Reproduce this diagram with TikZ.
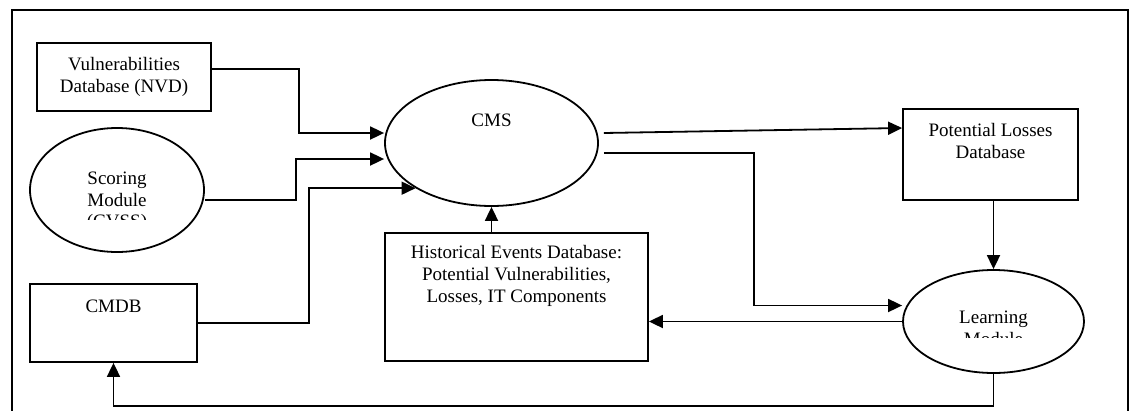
\documentclass[tikz,border=0pt]{standalone}
\usepackage{fontspec}
\setmainfont{Liberation Serif}
\usepackage{tikz}
\usetikzlibrary{shapes.geometric,arrows.meta,positioning}

\begin{document}
\begin{tikzpicture}[
        x=1pt, y=-1pt,
        every node/.style={font=\fontsize{19}{21.7}\selectfont},
        box/.style={draw, rectangle, line width=1.8pt, align=center, inner sep=0pt},
        oval/.style={draw, ellipse, line width=1.8pt, inner sep=0pt},
        txt/.style={align=center, inner sep=0pt},
        arrow/.style={-{Triangle[length=14pt,width=13pt]}, line width=1.8pt},
    ]
        \useasboundingbox (0,0) rectangle (1132,410);

        % Frame (bottom edge runs off the page)
        \draw[line width=1.8pt] (12,412) -- (12,10) -- (1128,10) -- (1128,412);

        % Left column (inputs)
        \node (nvd) [box, minimum width=174pt, minimum height=68pt] at (124,77) {Vulnerabilities\\Database (NVD)};
        \node (scoring) [oval, minimum width=174pt, minimum height=124pt] at (117,190) {};
        \node (cmdb) [box, minimum width=167pt, minimum height=78pt] at (113.5,323) {};
        \node (cmdbtxt) [txt] at ([yshift=-23pt]cmdb.north) {CMDB};

        % Middle column
        \node (cms) [oval, minimum width=213pt, minimum height=126pt] at (491.5,143) {};
        \node (cmstxt) [txt] at ([yshift=23pt]cms.center) {CMS};
        \node (hist) [box, minimum width=263pt, minimum height=128pt] at (516.5,297) {};
        \node (histtxt) [txt] at ([yshift=-44pt]hist.north) {Historical Events Database:\\Potential Vulnerabilities,\\Losses, IT Components};

        % Right column
        \node (pld) [box, minimum width=175pt, minimum height=91pt] at (990.5,154.5) {};
        \node (pldtxt) [txt] at ([yshift=-33pt]pld.north) {Potential Losses\\Database};
        \node (learn) [oval, minimum width=181pt, minimum height=103pt] at (993.5,321.5) {};

        % Texts cut off by their shapes
        \begin{scope}
            \clip (scoring.west |- scoring.north) rectangle ([yshift=-29pt]scoring.east);
            \node (scoringtxt) [txt] at ([yshift=-12pt]scoring.center) {Scoring\\Module\\(CVSS)};
        \end{scope}
        \begin{scope}
            \clip (learn.west |- learn.north) rectangle ([yshift=-15.5pt]learn.east);
            \node (learntxt) [txt] at ([yshift=-6.5pt]learn.center) {Learning\\Module};
        \end{scope}

        % --- Edges ---
        % Inputs into CMS
        \draw [arrow] ([yshift=8pt]nvd.east) -- ++(87,0) |- ([yshift=10pt]cms.west);
        \draw [arrow] ([yshift=-10pt]scoring.east) -- ++(91,0) |- ([yshift=-16pt]cms.west);
        \draw [arrow] (cmdb.east) -- ++(111,0) |- (cms.south west);
        \draw [arrow] (cms.south |- hist.north) -- (cms.south);

        % CMS outputs
        \draw [arrow] ([xshift=5pt,yshift=10pt]cms.east) -- ([yshift=26.5pt]pld.west);
        \draw [arrow] ([xshift=5pt,yshift=-10pt]cms.east) -- ++(150,0) |- ([yshift=16pt]learn.west);
        \draw [arrow] (learn.north |- pld.south) -- (learn.north);

        % Learning module feedback
        \draw [arrow] (learn.west) -- (learn.west -| hist.east);
        \draw [arrow] (learn.south) -- ++(0,32) -| (cmdb.south);

    \end{tikzpicture}
\end{document}
